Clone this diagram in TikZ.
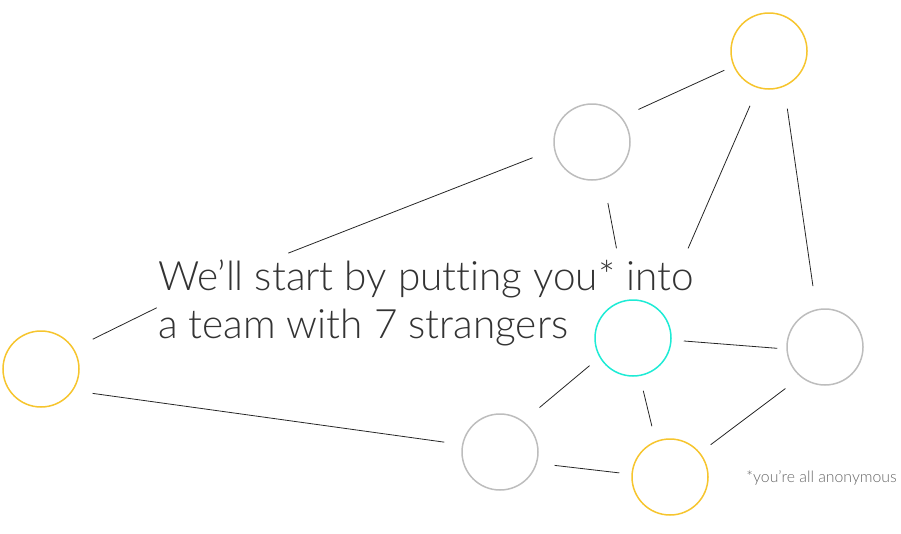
\documentclass[tikz,border=0pt]{standalone}
\usepackage{fontspec}
\setmainfont{Lato}[UprightFont=* Light, Ligatures=NoCommon]
\definecolor{teamgold}{HTML}{F6C52E}
\definecolor{teamgray}{HTML}{BDBDBD}
\definecolor{teamcyan}{HTML}{1EEBD5}
\begin{document}
\begin{tikzpicture}[x=1pt, y=-1pt,
  member/.style={circle, draw, line width=1.5pt, minimum size=76pt, inner sep=0pt},
  link/.style={draw=black!85, line width=0.8pt}]
	\useasboundingbox (0,0) rectangle (901,533);

		% team members
		\node[member, draw=teamgold] (A) at (769,51) {};
		\node[member, draw=teamgray] (B) at (592,142) {};
		\node[member, draw=teamgold] (C) at (41,369) {};
		\node[member, draw=teamcyan] (D) at (633,338) {};
		\node[member, draw=teamgray] (E) at (825,347) {};
		\node[member, draw=teamgray] (F) at (500,452) {};
		\node[member, draw=teamgold] (G) at (670,477) {};

		% texts
		\node[anchor=base west, align=left, inner sep=0pt, text=black!80,
		  font=\fontsize{40.5}{48}\selectfont] (caption) at (158,338)
		  {We’ll start by putting you* into\\a team with 7 strangers};
		\node[anchor=base east, inner sep=0pt, text=black!60,
		  font=\fontsize{15.8}{18}\selectfont] (note) at (897,482) {*you’re all anonymous};

		% links between members
		\draw[link, shorten <=9.9pt, shorten >=18.5pt] (A.203) -- (B.40);
		\draw[link, shorten <=19.3pt, shorten >=68.4pt] (A.253) -- (D.44);
		\draw[link, shorten <=22.2pt, shorten >=23.3pt] (A.293) -- (E.103);
		\draw[link, shorten <=23pt, shorten >=238.2pt] (B.191) -- (C.49);
		\draw[link, shorten <=21.1pt, shorten >=1.5pt] (C.32) -- (caption.181);
		\draw[link, shorten <=24.4pt, shorten >=52.5pt] (B.287) -- (D.100);
		\draw[link, shorten <=19.7pt, shorten >=17.9pt] (C.326) -- (F.169);
		\draw[link, shorten <=12.1pt, shorten >=9.1pt] (D.357) -- (E.183);
		\draw[link, shorten <=12.9pt, shorten >=21.1pt] (D.210) -- (F.53);
		\draw[link, shorten <=15pt, shorten >=15.3pt] (D.280) -- (G.112);
		\draw[link, shorten <=17.7pt, shorten >=12.2pt] (F.343) -- (G.176);
		\draw[link, shorten <=13.2pt, shorten >=19pt] (G.39) -- (E.231);

\end{tikzpicture}
\end{document}
